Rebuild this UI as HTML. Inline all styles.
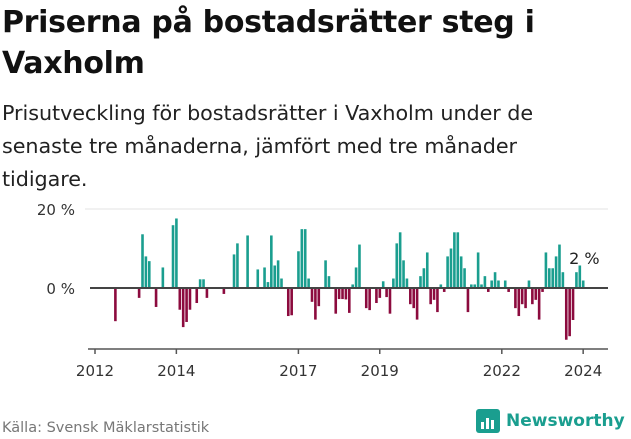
<!DOCTYPE html>
<html><head><meta charset="utf-8"><style>
body{margin:0;width:631px;height:439px;background:#fff;font-family:"Liberation Sans","DejaVu Sans",sans-serif;overflow:hidden;position:relative}
h1{position:absolute;left:2px;top:2px;margin:0;font-size:30px;line-height:41px;font-weight:bold;color:#111;font-family:"DejaVu Sans","Liberation Sans",sans-serif;letter-spacing:-0.3px}
.sub{position:absolute;left:2px;top:97px;font-size:20.7px;line-height:33px;color:#222;font-family:"DejaVu Sans","Liberation Sans",sans-serif;letter-spacing:-0.05px}
.src{position:absolute;left:2px;top:420px;font-size:14.5px;color:#777;font-family:"DejaVu Sans",sans-serif}
.logo{position:absolute;left:476px;top:409px;display:flex;align-items:center;gap:6px;font-size:17px;font-weight:bold;color:#1a9e8f;font-family:"DejaVu Sans",sans-serif}
svg{position:absolute;left:0;top:0}
</style></head><body>
<h1>Priserna på bostadsrätter steg i<br>Vaxholm</h1>
<div class="sub">Prisutveckling för bostadsrätter i Vaxholm under de<br>senaste tre månaderna, jämfört med tre månader<br>tidigare.</div>
<svg id="chart" width="631" height="439"></svg>
<div class="src">Källa: Svensk Mäklarstatistik</div>
<div class="logo"><svg width="24" height="24" style="position:static"><rect x="0" y="0" width="24" height="24" rx="3" fill="#1a9e8f"/><rect x="5" y="13" width="3" height="7" fill="#fff"/><rect x="10" y="9" width="3" height="11" fill="#fff"/><rect x="15" y="11" width="3" height="9" fill="#fff"/></svg>Newsworthy</div>
<script>
const months=[6,13,14,15,16,18,20,23,24,25,26,27,28,30,31,32,33,38,41,42,45,48,50,51,52,53,54,55,57,58,60,61,62,63,64,65,66,68,69,71,72,73,74,75,76,77,78,80,81,83,84,85,86,87,88,89,90,91,92,93,94,95,96,97,98,99,100,101,102,103,104,105,106,107,108,109,110,111,112,113,114,115,116,117,118,119,121,122,124,125,126,127,128,129,130,131,132,133,134,135,136,137,138,139,140,141,142,143,144];
const values=[-8.4,-2.5,13.6,8,6.8,-4.8,5.2,15.9,17.6,-5.5,-9.9,-8.6,-5.5,-3.8,2.2,2.2,-2.5,-1.5,8.5,11.3,13.3,4.7,5.2,1.5,13.3,5.7,7,2.4,-7.1,-6.9,9.3,14.9,14.9,2.4,-3.5,-8,-4.6,7,3,-6.5,-2.8,-2.8,-2.9,-6.3,0.9,5.2,11,-5.1,-5.6,-3.8,-2.5,1.7,-2.3,-6.5,2.4,11.3,14.1,7,2.4,-4.1,-5.1,-8,3,5,9,-4.1,-3,-6.1,0.9,-1,8,10,14.1,14.1,8,5,-6.1,0.9,0.9,9,0.9,3,-1,1.9,4,1.9,1.9,-1,-5.1,-7.1,-4.1,-5.1,1.9,-4.1,-3,-8,-1,9,5,5,8,11,4,-13.1,-12.2,-8.1,4,5.7,1.9];
const yTicks=[0,20];
const yTickLabels=["0 %","20 %"];
const xYears=[2012,2014,2017,2019,2022,2024];
const NS="http://www.w3.org/2000/svg";
const svg=document.getElementById('chart');
const x0=95,pxMonth=3.39,y0=288,pxPct=3.95;
const X=m=>x0+m*pxMonth;
const Y=v=>y0-v*pxPct;
function mk(t,a){const e=document.createElementNS(NS,t);for(const k in a)e.setAttribute(k,a[k]);svg.appendChild(e);return e;}
yTicks.forEach((t,i)=>{
  if(t!==0){const g=mk('line',{x1:85,x2:608,y1:Y(t),y2:Y(t),stroke:'#e3e3e3','stroke-width':1});
  
  }
  const l=mk('text',{x:75,y:Y(t)+6,'text-anchor':'end','font-size':15,fill:'#333','font-family':'DejaVu Sans, sans-serif'});
  l.textContent=yTickLabels[i];
  
  
});
months.forEach((m,i)=>{
  const v=values[i];
  const r=mk('rect',{x:X(m)-1.25,width:2.6,y:Math.min(Y(v),y0),height:Math.abs(Y(v)-y0),fill:v>=0?'#1a9e8f':'#8c0b3e'});
  
  
});
const zl=mk('line',{x1:90,x2:608,y1:y0,y2:y0,stroke:'#444','stroke-width':2});


const ax=mk('line',{x1:88,x2:608,y1:349,y2:349,stroke:'#555','stroke-width':1.5});


xYears.forEach(yr=>{
  const xx=X((yr-2012)*12);
  const t=mk('line',{x1:xx,x2:xx,y1:349,y2:354,stroke:'#555','stroke-width':1.5});
  
  
  const l=mk('text',{x:xx,y:376,'text-anchor':'middle','font-size':15,fill:'#333','font-family':'DejaVu Sans, sans-serif'});
  l.textContent=yr;
  
  
});
const last=values[values.length-1];
const lb=mk('text',{x:X(months[months.length-1])-14,y:264,'font-size':16,fill:'#222','font-family':'DejaVu Sans, sans-serif'});
lb.textContent=Math.round(last)+' %';


</script>
</body></html>
